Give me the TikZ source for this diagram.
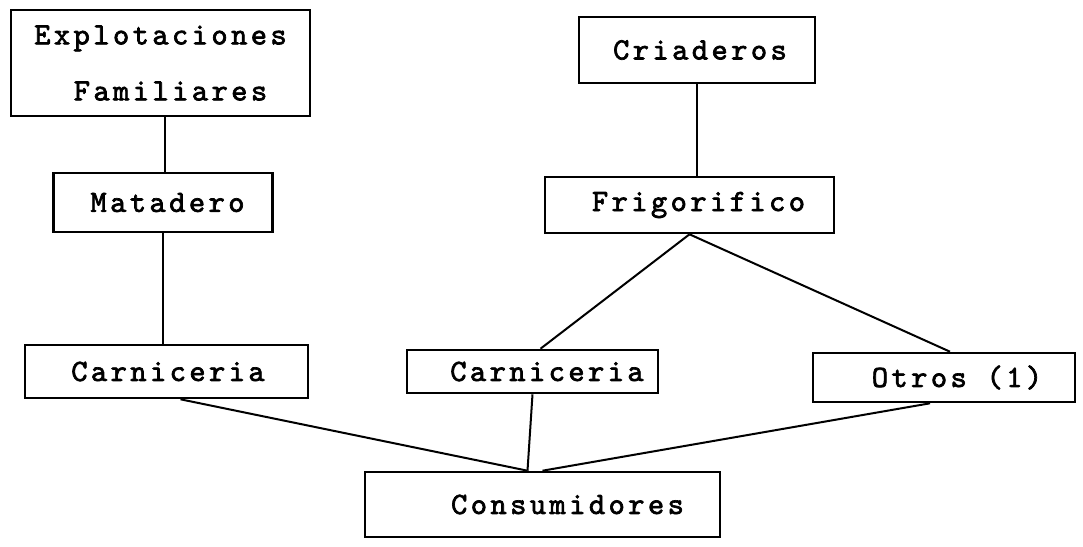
\documentclass[tikz,border=0pt]{standalone}
\usepackage{fontspec}
\newfontfamily\twfamily{lmmono10-regular}[Extension=.otf,LetterSpace=11,FakeBold=2.2]
\newcommand{\twfont}{\twfamily\fontsize{31}{56}\selectfont}
\begin{document}
\begin{tikzpicture}[x=1pt,y=-1pt,
  boxnode/.style={draw=black,line width=2.6pt,inner sep=0pt,font=\twfont},
  conn/.style={draw=black,line width=2pt}]
\useasboundingbox[fill=white] (0,0) rectangle (1083,546);
\node[boxnode,minimum width=299,minimum height=106,align=center] (expl) at (160.5,63)
  {Explotaciones\\\hspace*{20pt}Familiares};
\node[boxnode,minimum width=219,minimum height=59] (mat) at (163,202.5) {\hspace*{9pt}Matadero};
\node[boxnode,minimum width=236,minimum height=66] (cria) at (697,50) {\hspace*{6pt}Criaderos};
\node[boxnode,minimum width=289,minimum height=56] (frig) at (689.5,205) {\hspace*{18pt}Frigorifico};
\node[boxnode,minimum width=283,minimum height=53] (carnl) at (166.5,371.5) {\hspace*{3pt}Carniceria};
\node[boxnode,minimum width=251,minimum height=43] (carnm) at (532.5,371.5) {\hspace*{29pt}Carniceria};
\node[boxnode,minimum width=262,minimum height=49] (otros) at (944,377.5) {\hspace*{26pt}Otros (1)};
\node[boxnode,minimum width=355,minimum height=65] (cons) at (542.5,504.5) {\hspace*{50pt}Consumidores};
\coordinate (meet) at ([xshift=-15pt]cons.north);
\coordinate (e1) at ([xshift=4.5pt]expl.south);
\draw[conn] (e1) -- (e1 |- mat.north);
\draw[conn] (mat.south) -- (mat.south |- carnl.north);
\draw[conn] (cria.south) -- (cria.south |- frig.north);
\draw[conn] (frig.south) -- ([xshift=8pt]carnm.north);
\draw[conn] (frig.south) -- ([xshift=6pt]otros.north);
\draw[conn] ([xshift=14pt]carnl.south) -- (meet);
\draw[conn] (carnm.south) -- (meet);
\draw[conn] ([xshift=-14pt]otros.south) -- (cons.north);
\end{tikzpicture}
\end{document}
